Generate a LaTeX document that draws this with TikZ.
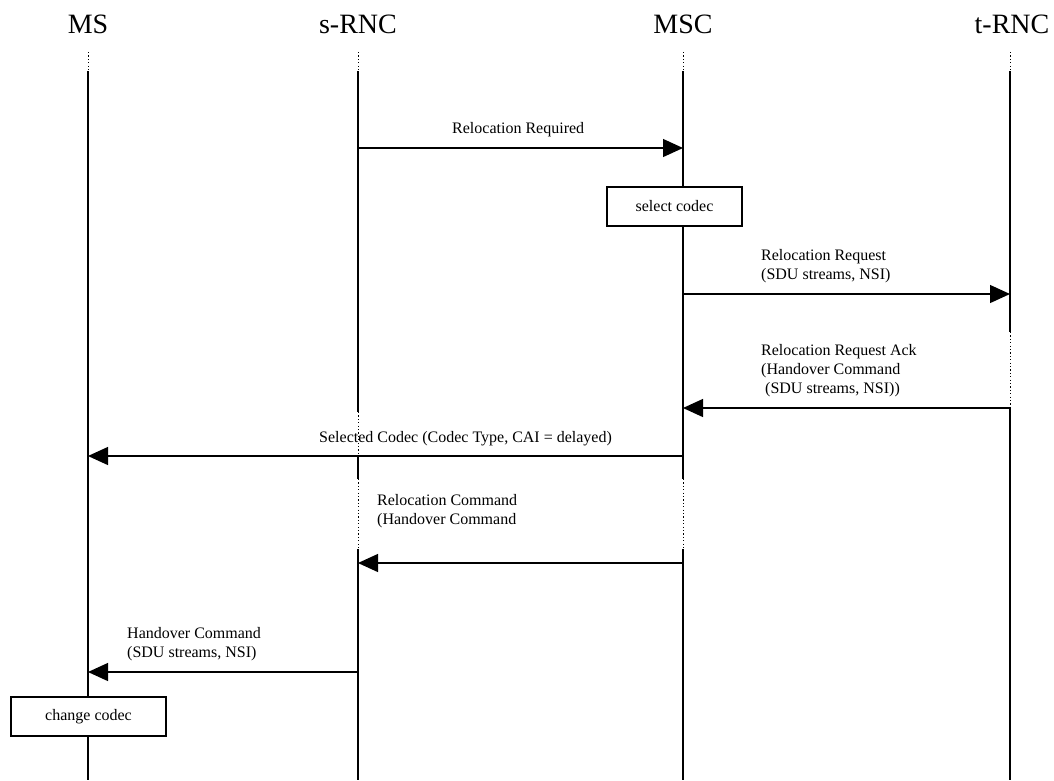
\documentclass[tikz,border=0pt]{standalone}
\usepackage{fontspec}
\setmainfont{Liberation Serif}
\usetikzlibrary{arrows.meta}
\begin{document}
\begin{tikzpicture}[x=1pt,y=-1pt,
  life/.style={line width=1.3pt},
  lifedot/.style={line width=1pt, dash pattern=on 1.2pt off 2.2pt},
  msg/.style={line width=1.3pt,-{Triangle[length=20pt,width=18pt]}},
  hdr/.style={font=\fontsize{28}{30}\selectfont, inner sep=0, anchor=base},
  lbl/.style={font=\fontsize{16}{19}\selectfont, align=left, inner sep=0, anchor=north west},
  actbox/.style={draw, line width=1.2pt, fill=white, font=\fontsize{16}{19}\selectfont, inner sep=0}]
\useasboundingbox (0,0) rectangle (1054,780);
% headers
\node[hdr] (hMS)  at (88,33)   {MS};
\node[hdr] (hS)   at (358,33)  {s-RNC};
\node[hdr] (hMSC) at (683,33)  {MSC};
\node[hdr] (hT)   at (1012,33) {t-RNC};
% lifeline coordinates
\foreach \n/\x in {ms/88, s/358, msc/683, t/1010}{
  \coordinate (\n-a) at (\x,52);
  \coordinate (\n-b) at (\x,71);
  \coordinate (\n-z) at (\x,780);
}
\coordinate (s-c) at (358,412);
\coordinate (s-d) at (358,456);
\coordinate (s-e) at (358,479);
\coordinate (s-f) at (358,549);
\coordinate (msc-e) at (683,479);
\coordinate (msc-f) at (683,549);
\coordinate (t-c) at (1010,332);
\coordinate (t-d) at (1010,408);
% lifelines
\foreach \n in {ms,s,msc,t}{ \draw[lifedot] (\n-a) -- (\n-b); }
\draw[life] (ms-b) -- (ms-z);
\draw[life] (s-b) -- (s-c);
\draw[lifedot] (s-c) -- (s-d);
\draw[life] (s-d) -- (s-e);
\draw[lifedot] (s-e) -- (s-f);
\draw[life] (s-f) -- (s-z);
\draw[life] (msc-b) -- (msc-e);
\draw[lifedot] (msc-e) -- (msc-f);
\draw[life] (msc-f) -- (msc-z);
\draw[life] (t-b) -- (t-c);
\draw[lifedot] (t-c) -- (t-d);
\draw[life] (t-d) -- (t-z);
% message endpoints
\coordinate (m1a) at (358,148);  \coordinate (m1b) at (683,148);
\coordinate (m2a) at (683,294);  \coordinate (m2b) at (1010,294);
\coordinate (m3a) at (1010,408); \coordinate (m3b) at (683,408);
\coordinate (m4a) at (683,456);  \coordinate (m4b) at (88,456);
\coordinate (m5a) at (683,563);  \coordinate (m5b) at (358,563);
\coordinate (m6a) at (358,672);  \coordinate (m6b) at (88,672);
% messages
\draw[msg] (m1a) -- (m1b);
\node[lbl] (l1) at (452,122) {Relocation Required};
\node[actbox, minimum width=135pt, minimum height=39pt] (sel) at (674.5,206.5) {select codec};
\draw[msg] (m2a) -- (m2b);
\node[lbl] (l2) at (761,249) {Relocation Request\\(SDU streams, NSI)};
\draw[msg] (m3a) -- (m3b);
\node[lbl] (l3) at (761,344) {Relocation Request Ack\\(Handover Command\\\ (SDU streams, NSI))};
\draw[msg] (m4a) -- (m4b);
\node[lbl] (l4) at (319,431) {Selected Codec (Codec Type, CAI = delayed)};
\draw[msg] (m5a) -- (m5b);
\node[lbl] (l5) at (377,494) {Relocation Command\\(Handover Command};
\draw[msg] (m6a) -- (m6b);
\node[lbl] (l6) at (127,627) {Handover Command\\(SDU streams, NSI)};
\node[actbox, minimum width=155pt, minimum height=39pt] (chg) at (88.5,716.5) {change codec};
\end{tikzpicture}
\end{document}
